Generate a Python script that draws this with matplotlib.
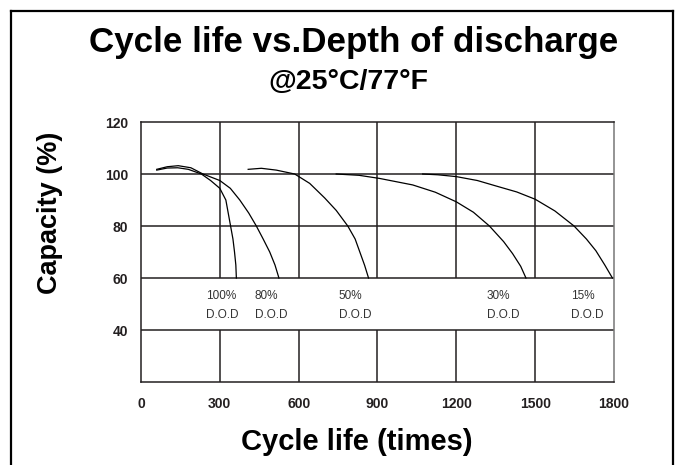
"""
Cycle life vs. depth of discharge chart (capacity % against cycle count).
"""

import matplotlib

matplotlib.use("Agg")
import matplotlib.pyplot as plt
from matplotlib.lines import Line2D

plt.rcParams["font.family"] = ["Liberation Sans", "DejaVu Sans"]

LINE = "#231f20"

# cycle counts and capacity (%)
dod_100_cycles = [60, 100, 140, 180, 230, 265, 300, 323, 332, 341, 350, 356, 361, 363]
dod_100_capacity = [101.5, 102.3, 102.4, 101.8, 100.0, 97.5, 94.5, 90.0, 85.0, 80.0, 75.0, 70.0, 65.0, 60.0]

dod_80_cycles = [60, 100, 142, 190, 236, 300, 340, 376, 410, 439, 465, 490, 510, 525]
dod_80_capacity = [101.8, 102.8, 103.2, 102.4, 100.0, 97.5, 94.5, 90.0, 85.0, 80.0, 75.0, 70.0, 65.0, 60.0]

dod_50_cycles = [408, 458, 515, 585, 642, 699, 743, 787, 815, 851, 866]
dod_50_capacity = [101.8, 102.2, 101.5, 100.0, 96.4, 90.8, 86.0, 80.0, 75.0, 64.9, 60.0]

dod_30_cycles = [743, 830, 908, 1034, 1120, 1200, 1265, 1326, 1380, 1414, 1445, 1465]
dod_30_capacity = [100.0, 99.5, 98.3, 95.8, 93.0, 89.3, 85.3, 80.0, 74.0, 69.4, 64.5, 60.0]

dod_15_cycles = [1072, 1130, 1200, 1280, 1351, 1430, 1500, 1575, 1648, 1695, 1731, 1765, 1794]
dod_15_capacity = [100.0, 99.7, 99.0, 97.5, 95.4, 93.1, 90.3, 85.8, 80.0, 75.0, 70.5, 65.0, 60.0]

dod_names = ["100%", "80%", "50%", "30%", "15%"]
label_cycles = [247, 433, 752, 1316, 1637]

x_ticks = [0, 300, 600, 900, 1200, 1500, 1800]
y_ticks = [40, 60, 80, 100, 120]

fig = plt.figure(figsize=(6.81, 4.65), dpi=100)
ax = fig.add_axes([0.207, 0.1785, 0.6946, 0.5591])

ax.set_xlim(0, 1800)
ax.set_ylim(20, 120)

# grid: vertical lines skip the 40-60 label band
for y in [40, 60, 80, 100]:
    ax.axhline(y, color=LINE, lw=1.1, zorder=1)
for x in x_ticks[1:-1]:
    ax.vlines(x, 20, 40, color=LINE, lw=1.1, zorder=1)
    ax.vlines(x, 60, 120, color=LINE, lw=1.1, zorder=1)

curves = [
    (dod_100_cycles, dod_100_capacity),
    (dod_80_cycles, dod_80_capacity),
    (dod_50_cycles, dod_50_capacity),
    (dod_30_cycles, dod_30_capacity),
    (dod_15_cycles, dod_15_capacity),
]
for cycles, capacity in curves:
    ax.plot(cycles, capacity, color="black", lw=0.9, zorder=2, solid_joinstyle="round")

for name, x in zip(dod_names, label_cycles):
    ax.text(x, 53.0, name, fontsize=8.5, color="#333333", ha="left", va="center")
    ax.text(x, 45.8, "D.O.D", fontsize=8.5, color="#333333", ha="left", va="center")

ax.set_xticks(x_ticks)
ax.set_xticklabels([str(v) for v in x_ticks], fontweight="bold", fontsize=10, color=LINE)
ax.set_yticks(y_ticks)
ax.set_yticklabels([str(v) for v in y_ticks], fontweight="bold", fontsize=10, color=LINE)
ax.tick_params(length=0, pad=9)
ax.tick_params(axis="x", pad=11)
for side in ["left", "right", "top", "bottom"]:
    ax.spines[side].set_color(LINE)
    ax.spines[side].set_linewidth(1.1)
ax.spines["right"].set_color("#777777")

fig.text(0.524, 1 - 450 / 465, "Cycle life (times)", fontsize=21, fontweight="bold",
         ha="center", va="baseline")
fig.text(0.0734, 0.542, "Capacity (%)", fontsize=19.5, fontweight="bold",
         ha="center", va="center", rotation=90)

fig.text(353.5 / 681, 1 - 52 / 465, "Cycle life vs.Depth of discharge", fontsize=25.2,
         fontweight="bold", ha="center", va="baseline")
fig.text(348 / 681, 1 - 89 / 465, "@25°C/77°F", fontsize=20.5, fontweight="bold",
         ha="center", va="baseline")

# outer frame (open at the bottom)
x0, x1, y1 = 11 / 681, 673 / 681, 1 - 11 / 465
for xs, ys in [([x0, x0], [0, y1]), ([x0, x1], [y1, y1]), ([x1, x1], [y1, 0])]:
    fig.add_artist(Line2D(xs, ys, color="black", lw=1.6, transform=fig.transFigure))

fig.savefig("out.png", dpi=100)
